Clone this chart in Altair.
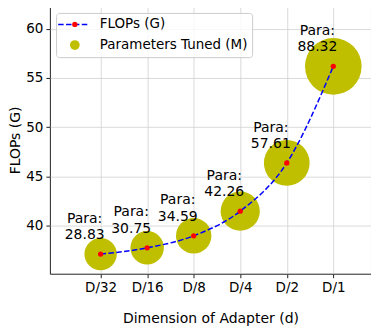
import altair as alt
import pandas as pd

categories = ["D/32", "D/16", "D/8", "D/4", "D/2", "D/1"]
flops = [37.13, 37.77, 38.99, 41.49, 46.38, 56.18]
params = [28.83, 30.75, 34.59, 42.26, 57.61, 88.32]

df = pd.DataFrame({
    "idx": list(range(len(categories))),
    "cat": categories,
    "flops": flops,
    "params": params,
})

FONT = "DejaVu Sans"
label_expr = "[" + ",".join(f"'{c}'" for c in categories) + "][round(datum.value)]"

x = alt.X("idx:Q",
          scale=alt.Scale(domain=[-1.09, 5.81], nice=False, zero=False),
          axis=alt.Axis(values=list(range(len(categories))), labelExpr=label_expr,
                        title="Dimension of Adapter (d)", titlePadding=17))
y = alt.Y("flops:Q",
          scale=alt.Scale(domain=[35.14, 62.29], nice=False, zero=False),
          axis=alt.Axis(values=[40, 45, 50, 55, 60], title="FLOPs (G)", titlePadding=3))

base = alt.Chart(df)

bubbles = base.mark_circle(color="#bfbf00", opacity=1).encode(
    x=x, y=y,
    size=alt.Size("params:Q", scale=alt.Scale(domain=[0, 88.32], range=[0, 3224]), legend=None),
)

line = base.mark_line(color="blue", strokeDash=[5.5, 2.4], strokeWidth=1.5,
                      interpolate="monotone").encode(x=x, y=y)

pts = base.mark_point(filled=True, color="red", size=28, opacity=1).encode(x=x, y=y)

labels = base.transform_calculate(
    lab="['Para:', format(datum.params, '.2f')]"
).mark_text(align="center", baseline="alphabetic", dx=-16, dy=-31.5, fontSize=14,
            lineHeight=16.5, font=FONT, color="black").encode(
    x=x, y=y, text="lab:N")

# legend box (manual)
leg_box = alt.Chart(df).transform_filter("datum.idx == 0").mark_rect(
    fill="white", fillOpacity=0.8, stroke="#cccccc", strokeWidth=1, cornerRadius=3
).encode(x=alt.value(6.7), x2=alt.value(203.3), y=alt.value(7.3), y2=alt.value(51.6))
leg_line = alt.Chart(df).transform_filter("datum.idx == 0").mark_rule(
    color="blue", strokeDash=[5.5, 2.4], strokeWidth=1.5
).encode(x=alt.value(8.3), x2=alt.value(39.3), y=alt.value(18.3))
leg_dot = alt.Chart(df).transform_filter("datum.idx == 0").mark_point(
    filled=True, color="red", size=28, opacity=1
).encode(x=alt.value(25), y=alt.value(18.3))
leg_circ = alt.Chart(df).transform_filter("datum.idx == 0").mark_point(
    filled=True, color="#bfbf00", size=95, opacity=1, shape="circle"
).encode(x=alt.value(25), y=alt.value(39))
leg_t1 = alt.Chart(df).transform_filter("datum.idx == 0").mark_text(
    align="left", baseline="middle", fontSize=13.5, font=FONT, color="black", text="FLOPs (G)"
).encode(x=alt.value(50), y=alt.value(18.3))
leg_t2 = alt.Chart(df).transform_filter("datum.idx == 0").mark_text(
    align="left", baseline="middle", fontSize=13.5, font=FONT, color="black", text="Parameters Tuned (M)"
).encode(x=alt.value(50), y=alt.value(39))

chart = alt.layer(bubbles, line, pts, labels, leg_box, leg_line, leg_dot, leg_circ, leg_t1, leg_t2).properties(
    width=322, height=268.3,
    autosize=alt.AutoSizeParams(type="none"),
    padding={"left": 42, "top": -2.3, "right": 0, "bottom": 60},
).configure_axis(
    labelFont=FONT, titleFont=FONT, labelFontSize=13.5, titleFontSize=14,
    titleFontWeight="normal", labelColor="black", titleColor="black",
    grid=True, gridColor="#d0d0d0", gridWidth=0.8,
    domain=False, tickColor="#222222", tickSize=4, tickWidth=1, labelPadding=3,
).configure_view(stroke="#222222", strokeWidth=1)

chart.save("out.html", embed_options={"renderer": "svg", "actions": False})
